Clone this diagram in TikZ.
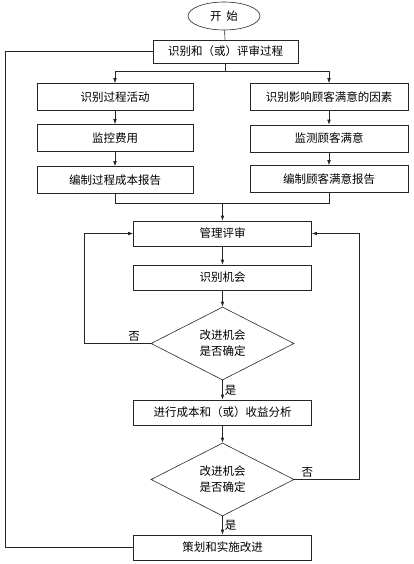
\documentclass[tikz,border=0pt]{standalone}
\usepackage{fontspec}
\newfontfamily\cjk{Noto Sans CJK SC}
\usetikzlibrary{shapes.geometric, arrows.meta, positioning}
\tikzset{
  % 流程框
  proc/.style={draw=black!85, line width=0.6pt, minimum height=25pt,
    minimum width=178pt, align=center, inner sep=1pt,
    font=\cjk\fontsize{11.5}{16}\selectfont},
  % 左右两列的框
  colbox/.style={proc, minimum height=27pt, minimum width=156pt},
  % 开始
  startnode/.style={ellipse, draw=black!85, line width=0.6pt, minimum width=72pt,
    minimum height=28pt, inner sep=0pt, font=\cjk\fontsize{11.5}{14}\selectfont},
  % 判断
  decision/.style={diamond, draw=black!85, line width=0.6pt, aspect=2,
    minimum width=143pt, minimum height=73pt, inner sep=0pt, align=center,
    font=\cjk\fontsize{11.5}{16}\selectfont},
  % 连线
  line/.style={draw=black!85, line width=0.6pt},
  arr/.style={line, -{Latex[length=5pt,width=3.6pt]}},
  lab/.style={font=\cjk\fontsize{11.5}{14}\selectfont, inner sep=2pt},
}
\begin{document}
\begin{tikzpicture}[x=1pt, y=-1pt]
  \useasboundingbox (0,0) rectangle (414,564);
  \node[startnode] (start) at (224,16) {开\hspace{5pt}始};
  \node[proc, minimum width=145pt, minimum height=23pt] (review) at (225.5,51.5) {识别和（或）评审过程};
  % 左列
  \node[colbox] (l1) at (115,97) {识别过程活动};
  \node[colbox] (l2) at (115,138) {监控费用};
  \node[colbox] (l3) at (115,180) {编制过程成本报告};
  % 右列
  \node[colbox, minimum width=158pt] (r1) at (329,97) {识别影响顾客满意的因素};
  \node[colbox, minimum width=158pt] (r2) at (329,138.5) {监测顾客满意};
  \node[colbox, minimum width=158pt] (r3) at (329,179) {编制顾客满意报告};
  % 中间
  \node[proc] (mgmt) at (222.5,233.5) {管理评审};
  \node[proc] (opp) at (222.5,277.5) {识别机会};
  \node[decision] (dec1) at (222.5,343.5) {改进机会\\是否确定};
  \node[proc] (ana) at (222.5,412.5) {进行成本和（或）收益分析};
  \node[decision] (dec2) at (222.5,479.5) {改进机会\\是否确定};
  \node[proc] (plan) at (222.5,547.5) {策划和实施改进};
  \coordinate (split) at (225.5,71);
  \coordinate (merge) at (222.5,203);

  \draw[line] (start) -- (review);
  \draw[line] (review) -- (split);
  \draw[arr] (split) -| (l1);
  \draw[arr] (split) -| (r1);
  \foreach \a/\b in {l1/l2, l2/l3, r1/r2, r2/r3, mgmt/opp, opp/dec1, ana/dec2}
    \draw[arr] (\a) -- (\b);
  \draw[line] (l3) |- (merge);
  \draw[line] (r3) |- (merge);
  \draw[arr] (merge) -- (mgmt);
  \draw[arr] (dec1) -- node[lab, right] {是} (ana);
  \draw[arr] (dec2) -- node[lab, right] {是} (plan);
  \draw[arr] (dec1.west) -- node[lab, above, pos=0.25] {否} ++(-66,0) |- (mgmt.west);
  \draw[arr] (dec2.east) -- node[lab, above, pos=0.2] {否} ++(65,0) |- (mgmt.east);
  \draw[line] (plan.west) -- ++(-127.5,0) |- (review.west);
\end{tikzpicture}
\end{document}
